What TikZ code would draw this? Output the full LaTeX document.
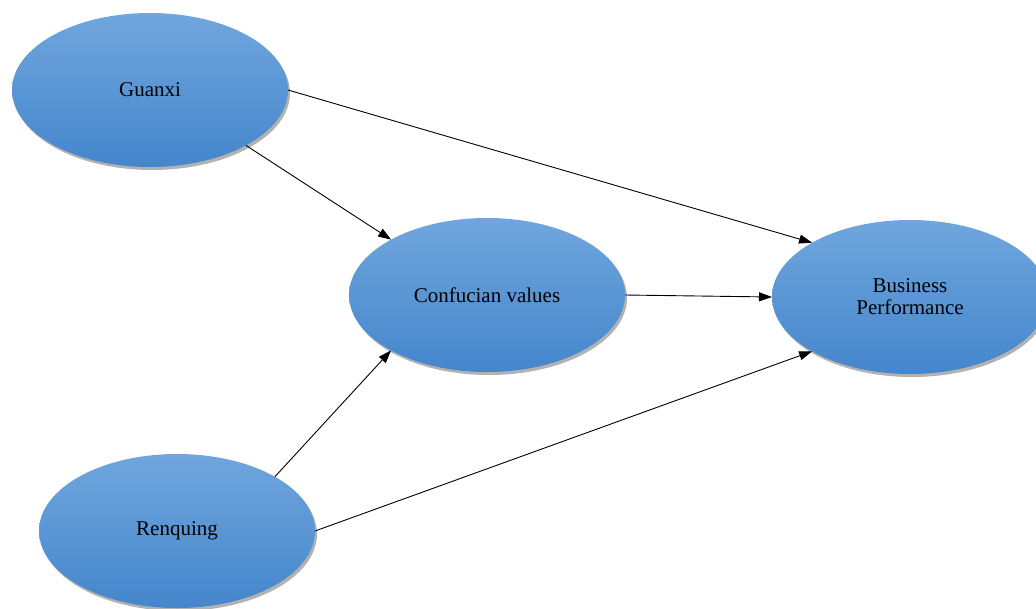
\documentclass[tikz,border=0pt]{standalone}
\usepackage{fontspec}
\setmainfont{Liberation Serif}
\usetikzlibrary{arrows.meta,shapes.geometric,shadows}
\definecolor{topblue}{RGB}{112,166,221}
\definecolor{botblue}{RGB}{68,134,204}
\tikzset{
  construct/.style={ellipse, minimum width=276pt, minimum height=154pt, inner sep=0pt, outer sep=0pt,
    top color=topblue, bottom color=botblue, draw=none,
    drop shadow={shadow xshift=2pt, shadow yshift=-3pt, opacity=0.3, fill=black},
    font=\fontsize{21}{23}\selectfont, align=center, text=black},
  link/.style={draw=black, line width=0.9pt, -{Triangle[length=13pt,width=9pt]}}
}
\begin{document}
\begin{tikzpicture}[x=1pt,y=-1pt]
\useasboundingbox (0,0) rectangle (1036,608);
\clip (0,0) rectangle (1036,608);
\fill[white] (0,0) rectangle (1036,608);
\node[construct] (g) at (150,90) {Guanxi};
\node[construct] (c) at (487,295) {Confucian values};
\node[construct] (b) at (910,297) {Business\\[-1pt]Performance};
\node[construct] (r) at (177,531) {Renquing};
\draw[link] (g.east) -- (b.151);
\draw[link] (g.-30) -- (c.150);
\draw[link] (c.east) -- (b.west);
\draw[link] (r.29) -- (c.-150);
\draw[link] (r.east) -- (b.-151);
\end{tikzpicture}
\end{document}
